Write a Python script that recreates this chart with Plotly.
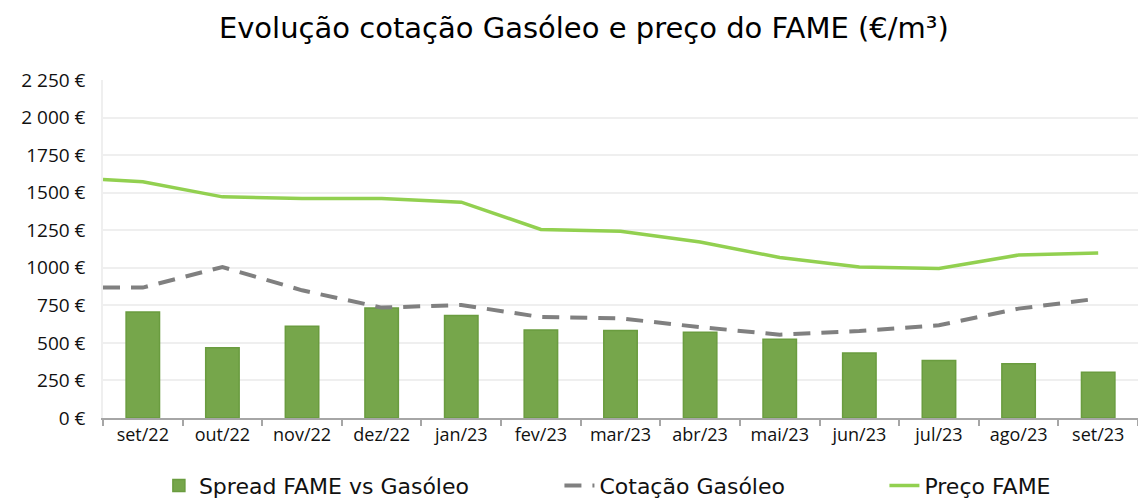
import plotly.graph_objects as go

categories = ["set/22", "out/22", "nov/22", "dez/22", "jan/23", "fev/23", "mar/23",
              "abr/23", "mai/23", "jun/23", "jul/23", "ago/23", "set/23"]
# line series: first value is the point drawn at the left edge of the plot
preco_fame = [1588, 1572, 1472, 1461, 1461, 1437, 1255, 1243, 1172, 1068, 1005, 995, 1085, 1099]
cotacao_gasoleo = [868, 868, 1005, 850, 735, 752, 672, 663, 605, 555, 579, 617, 728, 795]
spread = [705, 468, 610, 732, 683, 585, 583, 570, 525, 432, 383, 361, 305]
y_tickvals = [0, 250, 500, 750, 1000, 1250, 1500, 1750, 2000, 2250]
y_ticktext = ["0 €", "250 €", "500 €", "750 €", "1000 €", "1250 €", "1500 €", "1750 €", "2 000 €", "2 250 €"]

FONT = "Open Sans"
WIDE = "DejaVu Sans"
n = len(categories)
x_bar = list(range(n))
x_line = [-0.5] + x_bar

fig = go.Figure()
fig.add_trace(go.Bar(
    x=x_bar, y=spread, name="Spread FAME vs Gasóleo",
    marker=dict(color="#76A64B", line=dict(color="#6A9C3F", width=1.5)),
    width=0.42, legend="legend",
))
fig.add_trace(go.Scatter(
    x=x_line, y=cotacao_gasoleo, name="Cotação Gasóleo", mode="lines",
    line=dict(color="#808080", width=4, dash="17px,11px"), legend="legend2",
))
fig.add_trace(go.Scatter(
    x=x_line, y=preco_fame, name="Preço FAME", mode="lines",
    line=dict(color="#92D050", width=3.5), legend="legend3",
))

leg_common = dict(orientation="h", y=-0.2, yanchor="middle", xanchor="left",
                  font=dict(size=22, family=WIDE, color="#111111"),
                  bgcolor="rgba(0,0,0,0)")
fig.update_layout(
    width=1138, height=500,
    margin=dict(l=103, r=0, t=80, b=82, autoexpand=False),
    paper_bgcolor="white", plot_bgcolor="white",
    font=dict(family=FONT, color="#111111"),
    title=dict(text="Evolução cotação Gasóleo e preço do FAME (€/m³)",
               x=0.513, xanchor="center", y=0.945, yanchor="middle",
               font=dict(size=29, family=WIDE, color="#000000")),
    showlegend=True,
    legend=dict(x=0.054, **leg_common),
    legend2=dict(x=0.441, **leg_common),
    legend3=dict(x=0.755, **leg_common),
    bargap=0.5,
)
fig.update_xaxes(
    range=[-0.5, n - 0.5],
    tickmode="array", tickvals=x_bar, ticktext=categories,
    ticks="", showgrid=False,
    showline=True, linecolor="#A6A6A6", linewidth=1.5,
    tickfont=dict(size=18, family=FONT, color="#111111"),
    minor=dict(tickmode="array", tickvals=[i - 0.5 for i in range(n + 1)],
               ticks="outside", ticklen=6, tickcolor="#A6A6A6", tickwidth=1.5, showgrid=False),
    zeroline=False,
)
fig.update_yaxes(
    range=[0, 2250],
    tickmode="array", tickvals=y_tickvals, ticktext=y_ticktext,
    showgrid=True, gridcolor="#EFEFEF", gridwidth=1.5,
    showline=True, linecolor="#EFEFEF", linewidth=1.5,
    zeroline=False,
    tickfont=dict(size=19, family=FONT, color="#111111"),
    ticks="", ticklabelstandoff=12,
)

fig.write_html("out.html", config={"displayModeBar": False},
               post_script="document.body.style.margin='0px';document.body.style.overflow='hidden';")
